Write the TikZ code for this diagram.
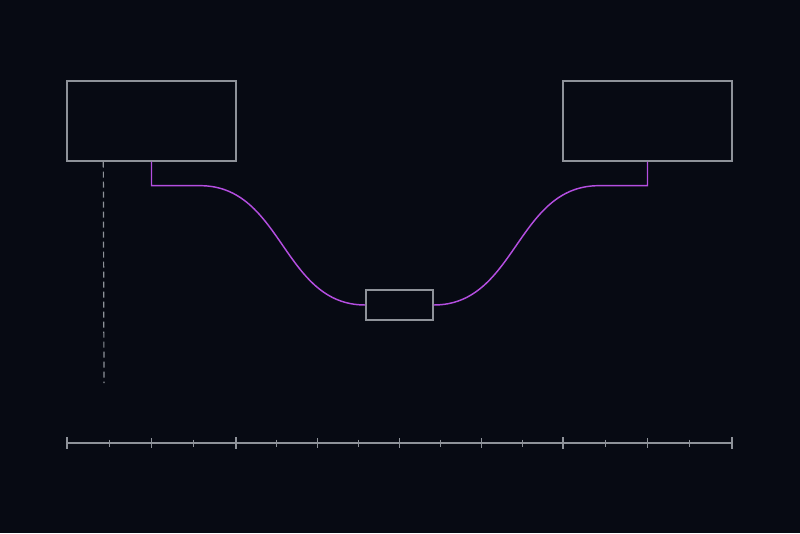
\documentclass[tikz,border=0pt]{standalone}
\usetikzlibrary{calc}
\definecolor{bgdark}{HTML}{070A13}
\definecolor{rulegray}{HTML}{8E9299}
\definecolor{linkpink}{HTML}{B44EE0}
\tikzset{
	blockbox/.style={draw=rulegray, line width=1pt, inner sep=0pt},
	link/.style={draw=linkpink, line width=1.1pt},
	tick/.style={draw=rulegray, line width=0.9pt}
}
\begin{document}
\begin{tikzpicture}[x=0.75pt, y=-0.75pt]
			\fill[bgdark] (0,0) rectangle (800,533);
			\useasboundingbox (0,0) rectangle (800,533);
			\node[blockbox, minimum width=126.75pt, minimum height=60pt] (left) at (151.5,121) {};
			\node[blockbox, minimum width=126.75pt, minimum height=60pt] (right) at (647.5,121) {};
			\node[blockbox, minimum width=50.25pt, minimum height=22.5pt] (mid) at (399.5,305) {};
			% links into the middle block
			\draw[link] (left.south) -- ++(0,24) -- ++(48.5,0)
				.. controls ++(83,0) and ($(mid.west)+(-83,0)$) .. (mid.west);
			\draw[link] (right.south) -- ++(0,24) -- ++(-48.5,0)
				.. controls ++(-83,0) and ($(mid.east)+(83,0)$) .. (mid.east);
			% dashed guide
			\coordinate (guidetop) at ($(left.south west)+(37,0)$);
			\coordinate (guidebot) at (104,383);
			\draw[rulegray, line width=0.9pt, dash pattern=on 4.5pt off 3pt] (guidetop) -- (guidebot);
			% scale
			\coordinate (axl) at (67,443);
			\coordinate (axr) at (732,443);
			\draw[tick] (axl) -- (axr);
			\foreach \x in {67,236,563,732}
			\draw[tick] (\x, 437) -- (\x, 449);
			\foreach \x in {151.5,317.75,399.5,481.25,647.5}
			\draw[tick] (\x, 438) -- (\x, 448);
			\foreach \x in {109.25,193.75,276.88,358.63,440.38,522.13,605.25,689.75}
			\draw[tick] (\x, 439.5) -- (\x, 446.5);
		\end{tikzpicture}
\end{document}
